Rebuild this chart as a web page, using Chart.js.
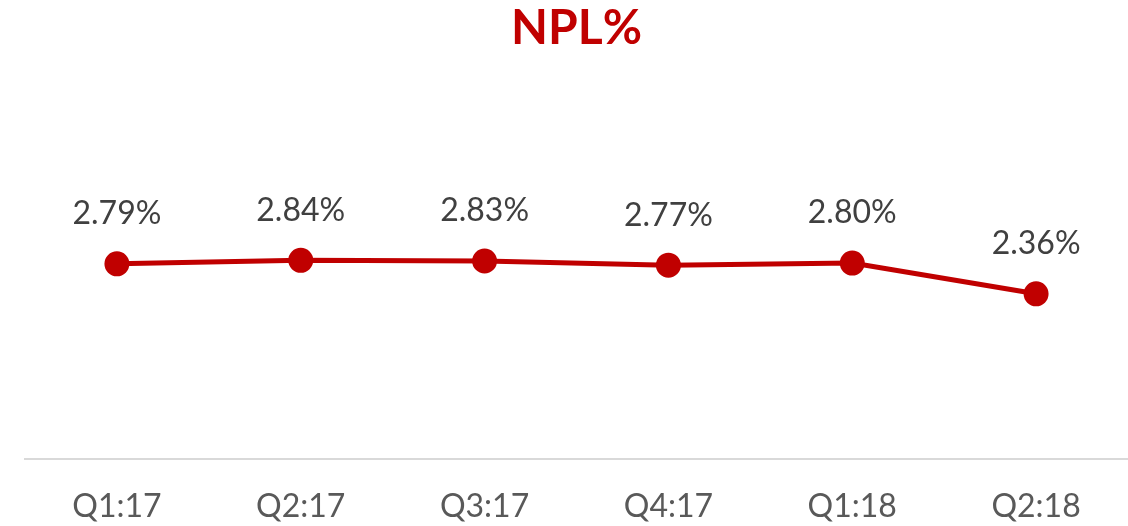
<!DOCTYPE html>
<html>
<head>
<meta charset="utf-8">
<script src="https://cdn.jsdelivr.net/npm/chart.js@4"></script>
<style>
  html, body { margin: 0; padding: 0; background: #fff; }
  #wrap { width: 1128px; height: 526px; }
</style>
</head>
<body>
<div id="wrap"><canvas id="c"></canvas></div>
<script>
// chart data
var quarters = ["Q1:17", "Q2:17", "Q3:17", "Q4:17", "Q1:18", "Q2:18"];
var nplValues = [2.79, 2.84, 2.83, 2.77, 2.80, 2.36];
var nplLabels = ["2.79%", "2.84%", "2.83%", "2.77%", "2.80%", "2.36%"];

var red = "#C00000";

// draws the value text above each point
var pointLabels = {
  id: "pointLabels",
  afterDatasetsDraw: function (chart) {
    var ctx = chart.ctx;
    var meta = chart.getDatasetMeta(0);
    ctx.save();
    ctx.font = "32px Lato";
    ctx.fillStyle = "#404040";
    ctx.textAlign = "center";
    ctx.textBaseline = "middle";
    meta.data.forEach(function (pt, i) {
      ctx.fillText(nplLabels[i], pt.x, pt.y - 50);
    });
    ctx.restore();
  }
};

new Chart(document.getElementById("c"), {
  type: "line",
  data: {
    labels: quarters,
    datasets: [{
      data: nplValues,
      borderColor: red,
      backgroundColor: red,
      borderWidth: 5,
      pointRadius: 10,
      pointHoverRadius: 10,
      pointBackgroundColor: red,
      pointBorderColor: red,
      clip: false,
      tension: 0
    }]
  },
  options: {
    responsive: true,
    maintainAspectRatio: false,
    animation: false,
    layout: { autoPadding: false, padding: { left: 25, right: 0, top: 0, bottom: -21 } },
    plugins: {
      legend: { display: false },
      tooltip: { enabled: false },
      title: {
        display: true,
        text: "NPL%",
        color: red,
        font: { family: "Lato", size: 48, weight: "bold" },
        padding: { top: 0, bottom: 10 }
      }
    },
    scales: {
      x: {
        offset: true,
        grid: { display: false },
        border: { display: true, color: "#d9d9d9", width: 2 },
        ticks: {
          color: "#595959",
          font: { family: "Lato", size: 32 },
          padding: 21,
          maxRotation: 0
        }
      },
      y: {
        display: false,
        min: 0,
        max: 5.6
      }
    }
  },
  plugins: [pointLabels]
});
</script>
</body>
</html>
